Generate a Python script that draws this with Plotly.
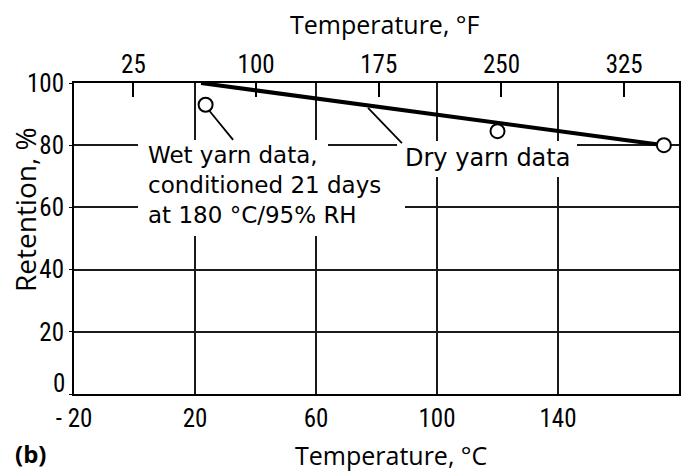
import plotly.graph_objects as go

# ---- data ----
dry_line_temp_c = [22, 175]
dry_line_retention = [100, 80]
dry_points_temp_c = [120, 175]
dry_points_retention = [84.5, 80]
wet_points_temp_c = [23.5]
wet_points_retention = [93]

x_ticks_c = [-20, 20, 60, 100, 140, 180]
x_ticktext_c = ["- 20", "20", "60", "100", "140", "180"]
y_ticks = [0, 20, 40, 60, 80, 100]
y_ticktext = ["", "20", "40", "60", "80", "100"]
top_ticks_f = [25, 100, 175, 250, 325]

# leader lines (data coordinates)
wet_leader_x = [24.8, 32.6]
wet_leader_y = [91.0, 81.7]
dry_leader_x = [77.2, 88.4]
dry_leader_y = [92.0, 80.7]

TEXT_FONT = "Open Sans, Noto Sans, Arial, sans-serif"
LABEL_FONT = "DejaVu Sans, Verdana, sans-serif"
TICK_FONT = "Liberation Sans Narrow, Arial Narrow, Roboto Condensed, Liberation Sans, sans-serif"

W, H = 696, 473
L, R, T, B = 74, 17, 83, 79
PW, PH = W - L - R, H - T - B
XR = (-20, 180)
YR = (0, 100)

def px(xp):
    return (xp - L) / PW

def py(yp):
    return (H - B - yp) / PH

def dx(xp):
    return XR[0] + px(xp) * (XR[1] - XR[0])

def dy(yp):
    return YR[0] + py(yp) * (YR[1] - YR[0])

fig = go.Figure()

# leader lines
for lx, ly in [(wet_leader_x, wet_leader_y), (dry_leader_x, dry_leader_y)]:
    fig.add_trace(go.Scatter(x=lx, y=ly, mode="lines",
                             line=dict(color="black", width=1.8),
                             showlegend=False, hoverinfo="skip"))

fig.add_trace(go.Scatter(x=dry_line_temp_c, y=dry_line_retention, mode="lines",
                         line=dict(color="black", width=4),
                         showlegend=False, hoverinfo="skip"))

fig.add_trace(go.Scatter(x=dry_points_temp_c + wet_points_temp_c,
                         y=dry_points_retention + wet_points_retention,
                         mode="markers",
                         marker=dict(symbol="circle", size=14, color="white",
                                     line=dict(color="black", width=2)),
                         showlegend=False, hoverinfo="skip"))

# dummy trace to activate the °F axis
fig.add_trace(go.Scatter(x=top_ticks_f, y=[None] * len(top_ticks_f), xaxis="x2",
                         mode="markers", showlegend=False, hoverinfo="skip"))

# white patches that interrupt the grid behind the labels (between grid and traces)
shapes = []
for x0, x1, y0, y1 in [(138, 328, 140, 172), (138, 400, 172, 200), (138, 405, 200, 236),
                       (397, 577, 141, 177)]:
    shapes.append(dict(type="rect", xref="x", yref="y",
                       x0=dx(x0), x1=dx(x1), y0=dy(y1), y1=dy(y0),
                       fillcolor="white", line=dict(width=0), layer="between"))

ann = []
ann.append(dict(x=dx(146), y=dy(185), xref="x", yref="y",
                text="Wet yarn data,<br>conditioned 21 days<br>at 180 °C/95% RH",
                showarrow=False, xanchor="left", yanchor="middle", align="left",
                font=dict(family=LABEL_FONT, size=23, color="black")))
ann.append(dict(x=dx(403), y=dy(158), xref="x", yref="y",
                text="Dry yarn data", showarrow=False, xanchor="left", yanchor="middle",
                font=dict(family=LABEL_FONT, size=24, color="black")))

# y "0" label (raised, as in the reference)
ann.append(dict(x=-0.012, y=3.5, xref="paper", yref="y", text="0", showarrow=False,
                xanchor="right", yanchor="middle",
                font=dict(family=TICK_FONT, size=25, color="black")))

# axis titles
ann.append(dict(x=px(385), y=py(24), xref="paper", yref="paper",
                text="Temperature, °F", showarrow=False, xanchor="center", yanchor="middle",
                font=dict(family=TEXT_FONT, size=25, color="black")))
ann.append(dict(x=px(391), y=py(455), xref="paper", yref="paper",
                text="Temperature, °C", showarrow=False, xanchor="center", yanchor="middle",
                font=dict(family=TEXT_FONT, size=25, color="black")))
ann.append(dict(x=px(13), y=py(453), xref="paper", yref="paper",
                text="<b>(b)</b>", showarrow=False, xanchor="left", yanchor="middle",
                font=dict(family=TEXT_FONT, size=24, color="black")))
ann.append(dict(x=px(25), y=py(210), xref="paper", yref="paper",
                text="Retention, %", showarrow=False, xanchor="center", yanchor="middle",
                textangle=-90,
                font=dict(family=TEXT_FONT, size=28, color="black")))

fig.update_layout(
    width=W, height=H,
    margin=dict(l=L, r=R, t=T, b=B),
    paper_bgcolor="white", plot_bgcolor="white",
    annotations=ann, shapes=shapes,
    xaxis=dict(range=list(XR), tickvals=x_ticks_c, ticktext=x_ticktext_c,
               showgrid=True, gridcolor="#1a1a1a", gridwidth=1.5,
               showline=True, linecolor="black", linewidth=2, mirror=True,
               ticks="", ticklabelstandoff=1, zeroline=False,
               tickfont=dict(family=TICK_FONT, size=25, color="black")),
    xaxis2=dict(range=[-11.3, 358.5], overlaying="x", side="top",
                tickvals=top_ticks_f, showgrid=False, zeroline=False,
                ticks="inside", ticklen=14, tickwidth=2, tickcolor="black",
                ticklabelstandoff=4,
                tickfont=dict(family=TICK_FONT, size=25, color="black")),
    yaxis=dict(range=list(YR), tickvals=y_ticks, ticktext=y_ticktext,
               showgrid=True, gridcolor="#1a1a1a", gridwidth=1.5,
               showline=True, linecolor="black", linewidth=2, mirror=True,
               ticks="outside", ticklen=3, tickcolor="black", zeroline=False,
               tickfont=dict(family=TICK_FONT, size=25, color="black")),
)

fig.write_html("out.html")
